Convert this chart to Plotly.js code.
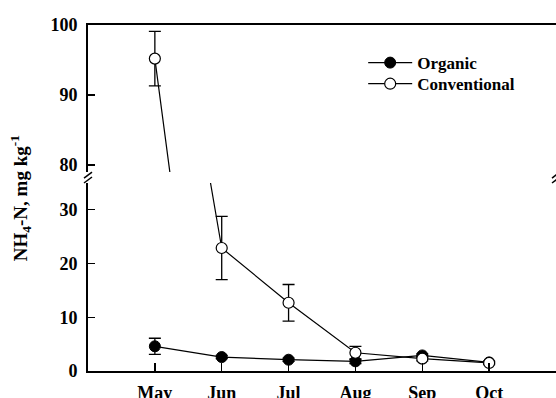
<!DOCTYPE html>
<html>
<head>
<meta charset="utf-8">
<script src="https://cdn.plot.ly/plotly-3.0.1.min.js"></script>
<style>
  html, body { margin: 0; padding: 0; background: #fff; }
  #chart { width: 556px; height: 398px; }
</style>
</head>
<body>
<div id="chart"></div>
<script>
// Soil NH4-N by month, organic vs conventional management
const months = ['May', 'Jun', 'Jul', 'Aug', 'Sep', 'Oct'];
const organic = [4.6, 2.6, 2.1, 1.8, 2.9, 1.6];
const organicErr = [1.5, 0.3, 0.3, 0.4, 0.3, 0.2];
const conventional = [95.2, 22.9, 12.7, 3.4, 2.3, 1.5];
const conventionalErr = [3.9, 5.9, 3.4, 1.2, 0.4, 0.3];

const lowerTicks = [0, 10, 20, 30];
const upperTicks = [80, 90, 100];

const serif = 'Liberation Serif, Times New Roman, serif';
const lowerDomain = [0, 0.5434];
const upperDomain = [0.575, 1];

function errBars(arr) {
  return { type: 'data', array: arr, visible: true, color: '#000', thickness: 1.3, width: 6 };
}

const organicTrace = {
  x: months, y: organic, name: 'Organic', xaxis: 'x', yaxis: 'y', legend: 'legend',
  mode: 'lines+markers', type: 'scatter',
  line: { color: '#000', width: 1.2 },
  marker: { symbol: 'circle', size: 11, color: '#000', line: { color: '#000', width: 1 } },
  error_y: errBars(organicErr)
};

const convStyle = {
  mode: 'lines+markers', type: 'scatter',
  line: { color: '#000', width: 1.2 },
  marker: { symbol: 'circle', size: 11, color: '#fff', line: { color: '#000', width: 1.2 } },
  error_y: errBars(conventionalErr)
};

const convLower = Object.assign({
  x: months, y: conventional, name: 'Conventional', xaxis: 'x', yaxis: 'y', legend: 'legend2'
}, convStyle);

const convUpper = Object.assign({
  x: months, y: conventional, name: 'Conventional', xaxis: 'x2', yaxis: 'y2', showlegend: false
}, convStyle);

// small diagonal marks where the value axis is broken
function breakMark(xa, ya, y0, y1) {
  return {
    type: 'line', xref: 'paper', yref: 'paper',
    xsizemode: 'pixel', ysizemode: 'pixel', xanchor: xa, yanchor: ya,
    x0: -4, x1: 4, y0: y0, y1: y1,
    line: { color: '#000', width: 1.5 }
  };
}

const tickFont = { family: serif, size: 18, color: '#000', weight: 'bold' };
const legendFont = { family: serif, size: 17, color: '#000', weight: 'bold' };

function legendBox(yc) {
  return {
    x: 0.588, y: yc, xanchor: 'left', yanchor: 'middle',
    bgcolor: 'rgba(0,0,0,0)', borderwidth: 0,
    font: legendFont, itemwidth: 44
  };
}

const layout = {
  width: 556, height: 398,
  margin: { l: 88, r: 0, t: 25, b: 27 },
  paper_bgcolor: '#fff', plot_bgcolor: '#fff',
  showlegend: true,
  legend: legendBox(0.890),
  legend2: legendBox(0.829),
  xaxis: {
    type: 'category', range: [-1, 6], anchor: 'y',
    showline: true, linecolor: '#000', linewidth: 2, mirror: false,
    ticks: 'inside', ticklen: 8, tickwidth: 1.3, tickcolor: '#000',
    showgrid: false, zeroline: false, tickfont: tickFont, ticklabelstandoff: 4
  },
  xaxis2: {
    type: 'category', range: [-1, 6], anchor: 'y2', side: 'top', matches: 'x',
    showline: true, linecolor: '#000', linewidth: 2,
    ticks: '', showticklabels: false, showgrid: false, zeroline: false
  },
  yaxis: {
    domain: lowerDomain, range: [0, 35], anchor: 'x',
    tickvals: lowerTicks,
    showline: true, linecolor: '#000', linewidth: 2, mirror: true,
    ticks: 'inside', ticklen: 7, tickwidth: 1.3, tickcolor: '#000',
    showgrid: false, zeroline: false, tickfont: tickFont, ticklabelstandoff: 5
  },
  yaxis2: {
    domain: upperDomain, range: [79, 100], anchor: 'x2',
    tickvals: upperTicks,
    showline: true, linecolor: '#000', linewidth: 2, mirror: true,
    ticks: 'inside', ticklen: 7, tickwidth: 1.3, tickcolor: '#000',
    showgrid: false, zeroline: false, tickfont: tickFont, ticklabelstandoff: 5
  },
  annotations: [{
    xref: 'paper', yref: 'paper', x: -0.145, y: 0.5,
    xanchor: 'center', yanchor: 'middle', textangle: -90, showarrow: false,
    text: 'NH<sub>4</sub>-N, mg kg<sup>-1</sup>',
    font: { family: serif, size: 19, color: '#000', weight: 'bold' }
  }],
  shapes: [
    breakMark(0, upperDomain[0], -6, 0),
    breakMark(0, lowerDomain[1], 0, 6),
    breakMark(1, upperDomain[0], -6, 0),
    breakMark(1, lowerDomain[1], 0, 6)
  ]
};

Plotly.newPlot('chart', [organicTrace, convLower, convUpper], layout, { displayModeBar: false, staticPlot: true });
</script>
</body>
</html>
